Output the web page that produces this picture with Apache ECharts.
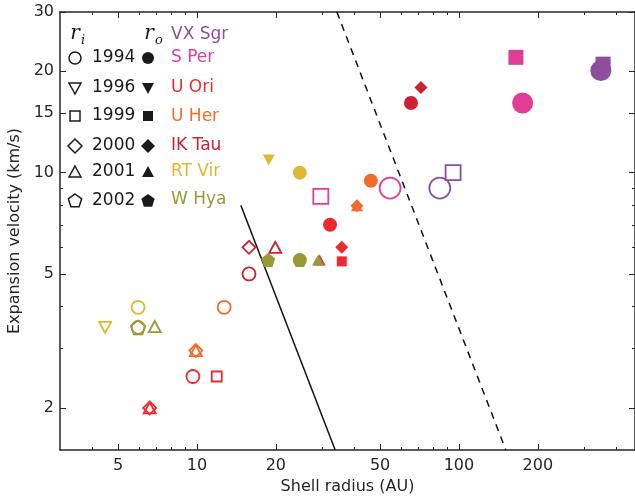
<!DOCTYPE html>
<html>
<head>
<meta charset="utf-8">
<script src="https://cdn.jsdelivr.net/npm/echarts@6/dist/echarts.min.js"></script>
<style>
  html, body { margin: 0; background: #fff; }
  #chart { width: 635px; height: 496px; }
</style>
</head>
<body>
<div id="chart"></div>
<script>
// each point: [shell radius (AU), expansion velocity (km/s), year, 'i' inner / 'o' outer]
const vxSgr = [[84.5, 9.0, 1994, 'i'], [95, 10, 1999, 'i'], [355, 21, 1999, 'o'], [348, 20.1, 1994, 'o']]
const sPer = [[54.6, 9.0, 1994, 'i'], [29.7, 8.5, 1999, 'i'], [165, 22, 1999, 'o'], [175, 16.1, 1994, 'o']]
const uOri = [[9.65, 2.48, 1994, 'i'], [11.9, 2.48, 1999, 'i'], [6.6, 2.0, 2000, 'i'], [6.6, 2.0, 2001, 'i'],
  [32.2, 7.0, 1994, 'o'], [35.7, 5.45, 1999, 'o'], [35.7, 6.0, 2000, 'o'], [29.4, 5.5, 2001, 'o']]
const uHer = [[12.7, 3.98, 1994, 'i'], [9.9, 2.96, 2000, 'i'], [9.9, 2.96, 2001, 'i'],
  [46.1, 9.46, 1994, 'o'], [40.8, 7.97, 2000, 'o'], [40.8, 7.97, 2001, 'o']]
const ikTau = [[15.8, 5.0, 1994, 'i'], [15.8, 6.0, 2000, 'i'], [19.9, 6.0, 2001, 'i'],
  [65.6, 16.1, 1994, 'o'], [71.6, 17.9, 2000, 'o']]
const rtVir = [[5.96, 3.98, 1994, 'i'], [4.46, 3.47, 1996, 'i'], [24.7, 10, 1994, 'o'], [18.8, 10.9, 1996, 'o']]
const wHya = [[5.96, 3.47, 1994, 'i'], [5.96, 3.47, 2002, 'i'], [6.9, 3.49, 2001, 'i'],
  [18.7, 5.5, 2002, 'o'], [24.7, 5.5, 1994, 'o'], [24.7, 5.5, 2002, 'o'], [29, 5.5, 2001, 'o']]

const starNames = ['VX Sgr', 'S Per', 'U Ori', 'U Her', 'IK Tau', 'RT Vir', 'W Hya']
const years = [1994, 1996, 1999, 2000, 2001, 2002]

const xMajor = [5, 10, 20, 50, 100, 200]
const xMinor = [4, 6, 7, 8, 9, 30, 40, 60, 70, 80, 90, 300, 400]
const yMajor = [2, 5, 10, 15, 20, 30]
const yMinor = [3, 4, 6, 7, 8, 9]

// v ~ r^-2 boundary lines
const solidR = [14.7, 33.7], solidV = [8, 1.5]
const dashR = [34.2, 151], dashV = [30, 1.5]

const starData = [vxSgr, sPer, uOri, uHer, ikTau, rtVir, wHya]
const colors = ['#8d4e9e', '#e03d97', '#ee2a30', '#f26b2b', '#cd2030', '#dfb833', '#999935']
const bigStars = ['VX Sgr', 'S Per']

const PENT = 'path://M0,-10L9.51,-3.09L5.88,8.09L-5.88,8.09L-9.51,-3.09Z'
const symbolOf = {1994: 'circle', 1996: 'triangle', 1999: 'rect', 2000: 'diamond', 2001: 'triangle', 2002: PENT}

function sizeOf(year, big, filled) {
  if (year == 1994) return big ? 21 : (filled ? 14 : 13)
  if (year == 1999) return big ? 15 : 10
  if (year == 2000) return 13
  if (year == 2002) return 14
  return [12, 11]
}

let series = starNames.map((name, k) => {
  let big = bigStars.includes(name)
  return {
    name: name,
    type: 'scatter',
    z: 3,
    data: starData[k].map(p => {
      let filled = p[3] == 'o'
      return {
        value: [p[0], p[1]],
        symbol: symbolOf[p[2]],
        symbolRotate: p[2] == 1996 ? 180 : 0,
        symbolSize: sizeOf(p[2], big, filled),
        itemStyle: filled
          ? {color: colors[k], borderWidth: 0, opacity: 1}
          : {color: 'rgba(0,0,0,0)', borderColor: colors[k], borderWidth: 1.8, opacity: 1}
      }
    }),
    emphasis: {disabled: true}
  }
})

series.push({
  type: 'line', z: 2, symbol: 'none', silent: true,
  data: solidR.map((r, i) => [r, solidV[i]]),
  lineStyle: {color: '#111', width: 1.5}
})
series.push({
  type: 'line', z: 2, symbol: 'none', silent: true,
  data: dashR.map((r, i) => [r, dashV[i]]),
  lineStyle: {color: '#111', width: 1.5, type: [7, 6]}
})

// legend drawn by hand (matplotlib style text legend)
const legendY = [58, 88, 116, 146, 172, 201]
const nameY = [35, 58, 88, 117, 146, 172, 200]
function mark(year, x, y, filled) {
  let st = filled ? {fill: '#1a1a1a'} : {fill: 'none', stroke: '#1a1a1a', lineWidth: 1.5}
  if (year == 1994) return {type: 'circle', shape: {cx: x, cy: y, r: 6}, style: st}
  if (year == 1999) return {type: 'rect', shape: {x: x - 5, y: y - 5, width: 10, height: 10}, style: st}
  let pts
  if (year == 2000) pts = [[x, y - 7], [x + 7, y], [x, y + 7], [x - 7, y]]
  if (year == 2001) pts = [[x, y - 6], [x + 6, y + 5], [x - 6, y + 5]]
  if (year == 1996) pts = [[x, y + 6], [x + 6, y - 5], [x - 6, y - 5]]
  if (year == 2002) {
    pts = []
    for (let j = 0; j < 5; j++) {
      let a = -Math.PI / 2 + j * 2 * Math.PI / 5
      pts.push([x + 7 * Math.cos(a), y + 7 * Math.sin(a)])
    }
  }
  return {type: 'polygon', shape: {points: pts}, style: st}
}
let graphic = []
const txt = (s, x, y, color, size, extra) => ({
  type: 'text', x: x, y: y,
  style: Object.assign({text: s, fill: color, fontSize: size, fontFamily: 'DejaVu Sans', verticalAlign: 'middle', align: 'left'}, extra || {})
})
graphic.push(txt('r', 75, 34, '#1a1a1a', 20, {fontFamily: 'DejaVu Serif', fontStyle: 'italic', align: 'center'}))
graphic.push(txt('i', 81, 41, '#1a1a1a', 13, {fontFamily: 'DejaVu Serif', fontStyle: 'italic'}))
graphic.push(txt('r', 149, 34, '#1a1a1a', 20, {fontFamily: 'DejaVu Serif', fontStyle: 'italic', align: 'center'}))
graphic.push(txt('o', 155, 41, '#1a1a1a', 13, {fontFamily: 'DejaVu Serif', fontStyle: 'italic'}))
years.forEach((yr, i) => {
  graphic.push(mark(yr, 75, legendY[i], false))
  graphic.push(txt(String(yr), 92, legendY[i], '#1a1a1a', 17))
  graphic.push(mark(yr, 148, legendY[i], true))
})
starNames.forEach((n, i) => {
  graphic.push(txt(n, 171, nameY[i], colors[i], 17))
})

const tickFont = {fontSize: 16, fontFamily: 'DejaVu Sans', color: '#262626'}
const lineSt = {color: '#262626', width: 1.5}
function xAx(grid, pos, ticks, len, labels) {
  return {
    type: 'log', gridIndex: grid, position: pos, min: 3, max: 470,
    axisLine: {show: labels !== null, lineStyle: lineSt},
    axisTick: {show: true, inside: true, length: len, lineStyle: {color: '#262626', width: 1}, customValues: ticks},
    axisLabel: labels ? Object.assign({margin: 8, customValues: ticks, formatter: v => String(v)}, tickFont) : {show: false},
    splitLine: {show: false}, minorTick: {show: false}
  }
}
function yAx(grid, pos, ticks, len, labels) {
  return {
    type: 'log', gridIndex: grid, position: pos, min: 1.5, max: 30,
    axisLine: {show: labels !== null, lineStyle: lineSt},
    axisTick: {show: true, inside: true, length: len, lineStyle: {color: '#262626', width: 1}, customValues: ticks},
    axisLabel: labels ? Object.assign({margin: 6, customValues: ticks, formatter: v => String(v)}, tickFont) : {show: false},
    splitLine: {show: false}, minorTick: {show: false}
  }
}

// grid 0 carries the data and the major ticks, grid 1 (same box) only the minor ticks
let xs = [xAx(0, 'bottom', xMajor, 6, true), xAx(0, 'top', xMajor, 6, false),
  xAx(1, 'bottom', xMinor, 3, null), xAx(1, 'top', xMinor, 3, null)]
Object.assign(xs[0], {name: 'Shell radius (AU)', nameLocation: 'middle', nameGap: 24,
  nameTextStyle: {fontSize: 16, fontFamily: 'DejaVu Sans', color: '#262626'}})
let ys = [yAx(0, 'left', yMajor, 6, true), yAx(0, 'right', yMajor, 6, false),
  yAx(1, 'left', yMinor, 3, null), yAx(1, 'right', yMinor, 3, null)]
Object.assign(ys[0], {name: 'Expansion velocity (km/s)', nameLocation: 'middle', nameGap: 31,
  nameTextStyle: {fontSize: 16, fontFamily: 'DejaVu Sans', color: '#262626'}})

let myChart = echarts.init(document.getElementById('chart'))
myChart.setOption({
  animation: false,
  grid: [
    {left: 60, top: 12, right: 0, bottom: 46, outerBoundsMode: 'none', containLabel: false},
    {left: 60, top: 12, right: 0, bottom: 46, outerBoundsMode: 'none', containLabel: false}
  ],
  xAxis: xs,
  yAxis: ys,
  series: series,
  graphic: graphic
})
</script>
</body>
</html>
